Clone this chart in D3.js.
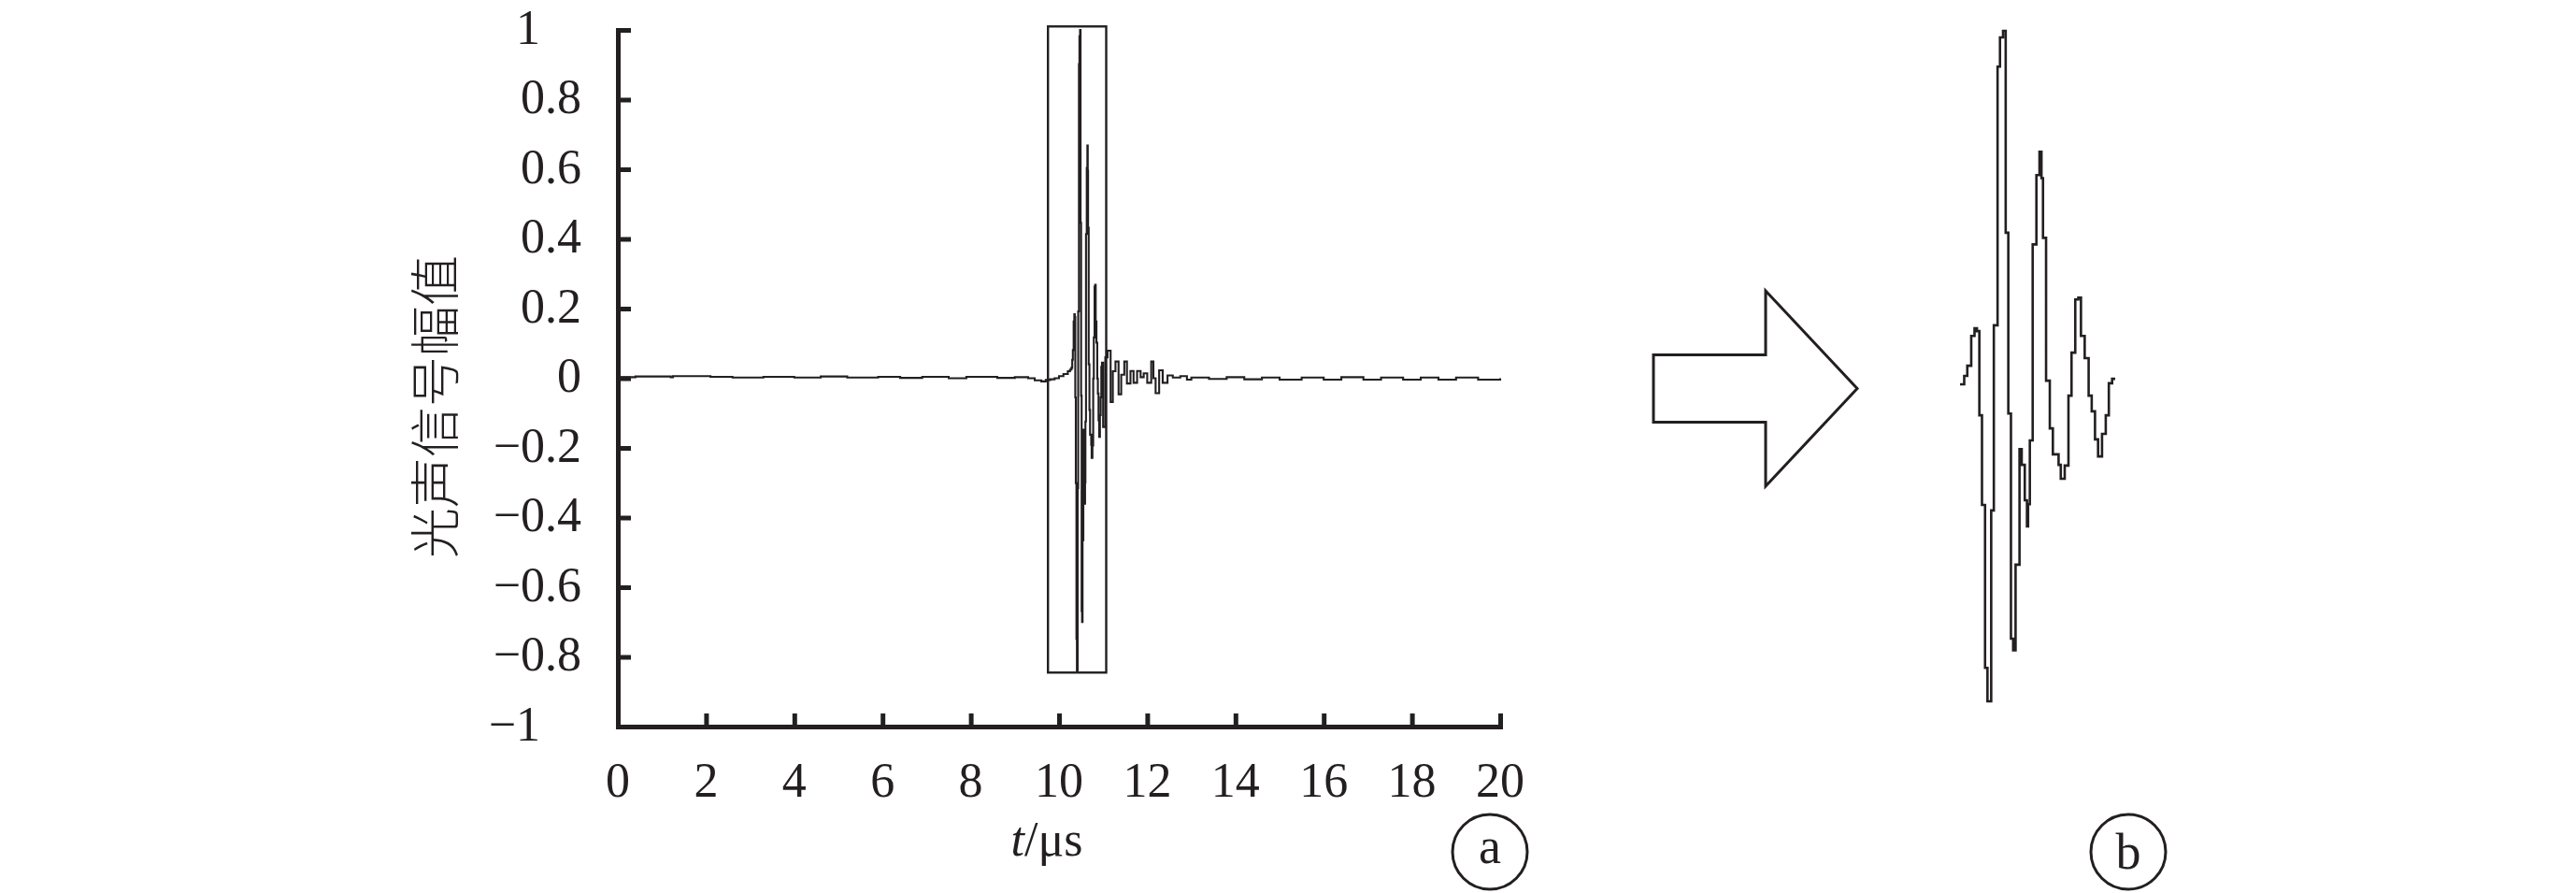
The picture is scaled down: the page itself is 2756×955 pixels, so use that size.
<!DOCTYPE html>
<html>
<head>
<meta charset="utf-8">
<script src="https://cdn.jsdelivr.net/npm/d3@7"></script>
<style>
  html, body { margin: 0; padding: 0; background: #fff; }
  svg { display: block; }
</style>
</head>
<body>
<svg id="chart" width="2756" height="955"></svg>
<script>
// ---------------- DATA ----------------
// x ticks (µs) and y ticks (amplitude)
const xTicks = [0, 2, 4, 6, 8, 10, 12, 14, 16, 18, 20];
const yTicks = [1, 0.8, 0.6, 0.4, 0.2, 0, -0.2, -0.4, -0.6, -0.8, -1];
const yTickLabels = ["1", "0.8", "0.6", "0.4", "0.2", "0", "\u22120.2", "\u22120.4", "\u22120.6", "\u22120.8", "\u22121"];
const xTitle = "t/\u03bcs";
const yTitle = "光声信号幅值";
const panelLabels = ["a", "b"];

// pre-burst baseline (t in µs, value)
const preT = [0, 0.4, 1.2, 1.25, 2.1, 2.6, 3.3, 4.0, 4.6, 5.2, 5.9, 6.4, 6.9, 7.5, 7.9, 8.6, 9.0, 9.3, 9.45, 9.6, 9.7, 9.8, 9.9, 10.0, 10.1, 10.2, 10.25];
const preV = [0.003, 0.005, 0.003, 0.006, 0.004, 0.002, 0.004, 0.002, 0.005, 0.002, 0.004, 0.001, 0.004, 0.0, 0.004, 0.001, 0.003, 0.0, -0.006, -0.009, -0.005, -0.003, 0.0, 0.006, 0.012, 0.020, 0.025];

// burst samples (shown magnified in panel b)
const burstT = [10.281, 10.300, 10.314, 10.332, 10.347, 10.358, 10.369, 10.381, 10.395, 10.406,
                10.423, 10.435, 10.452, 10.463, 10.477, 10.489, 10.501, 10.513, 10.523, 10.534,
                10.552, 10.562, 10.576, 10.586, 10.591, 10.599, 10.612, 10.629, 10.643, 10.652,
                10.659, 10.673, 10.690, 10.704, 10.730, 10.740, 10.758, 10.775, 10.789, 10.806,
                10.820, 10.832, 10.849, 10.867, 10.881, 10.896, 10.910, 10.928, 10.945, 10.959,
                10.974, 10.988];
const burstV = [0.030, 0.053, 0.081, 0.163, 0.184, 0.176, -0.055, -0.301, -0.748, -0.840,
                -0.316, 0.192, 0.902, 0.982, 1.000, 0.446, -0.050, -0.668, -0.700, -0.465,
                -0.148, -0.191, -0.288, -0.360, -0.299, -0.124, 0.414, 0.604, 0.668, 0.596,
                0.432, 0.040, -0.091, -0.162, -0.191, -0.229, -0.193, -0.001, 0.117, 0.263,
                0.268, 0.163, 0.102, -0.001, -0.044, -0.121, -0.168, -0.106, -0.055, 0.033,
                0.045, 0.045];

// ringing tail after the burst
const tailT = [11.00, 11.05, 11.10, 11.17, 11.22, 11.28, 11.35, 11.41, 11.48, 11.54, 11.62, 11.69, 11.77, 11.85, 11.92, 12.00, 12.09, 12.14, 12.19, 12.27, 12.35, 12.46, 12.58, 12.75, 12.9];
const tailV = [-0.14, 0.06, 0.079, -0.068, 0.02, 0.048, -0.046, 0.01, 0.048, -0.015, 0.021, -0.013, 0.021, 0.003, 0.014, -0.013, 0.048, 0.0, -0.043, 0.023, -0.013, 0.008, 0.002, 0.006, -0.004];

// post-burst baseline
const postT = [13.0, 13.4, 13.8, 14.2, 14.6, 15.0, 15.5, 16.0, 16.4, 16.9, 17.3, 17.8, 18.2, 18.6, 19.0, 19.5, 20.0];
const postV = [0.002, -0.002, 0.003, -0.003, 0.002, -0.004, 0.002, -0.004, 0.003, -0.004, 0.002, -0.004, 0.002, -0.004, 0.002, -0.004, 0.0];

// highlight box around the burst (t range, value range)
const boxT = [9.75, 11.07];
const boxV = [-0.845, 1.01];

// ---------------- LAYOUT ----------------
const W = 2756, H = 955;
const svg = d3.select("#chart");
svg.append("rect").attr("width", W).attr("height", H).attr("fill", "#fff");

const serif = "'Liberation Serif', 'Times New Roman', serif";
const ink = "#231f20";

const x = d3.scaleLinear().domain([0, 20]).range([661, 1605]);
const y = d3.scaleLinear().domain([-1, 1]).range([777, 32]);

const zip = (ts, vs) => ts.map((t, i) => [t, vs[i]]);
const mainSeries = [].concat(zip(preT, preV), zip(burstT, burstV), zip(tailT, tailV), zip(postT, postV));
const burstSeries = zip(burstT, burstV);

// axes
const gx = svg.append("g").attr("transform", `translate(0,${y(-1)})`)
  .call(d3.axisBottom(x).tickValues(xTicks).tickSizeInner(-14).tickSizeOuter(0).tickFormat(""));
const gy = svg.append("g").attr("transform", `translate(${x(0)},0)`)
  .call(d3.axisLeft(y).tickValues(yTicks).tickSizeInner(-14).tickSizeOuter(0).tickFormat(""));
[gx, gy].forEach(g => {
  g.selectAll("path.domain").attr("stroke", ink).attr("stroke-width", 5).attr("stroke-linecap", "square");
  g.selectAll(".tick line").attr("stroke", ink).attr("stroke-width", 5);
});

// x tick labels
svg.append("g").selectAll("text").data(xTicks).join("text")
  .attr("x", d => x(d)).attr("y", 852)
  .attr("text-anchor", "middle")
  .attr("font-family", serif).attr("font-size", 52).attr("fill", ink)
  .text(d => d);

// y tick labels (as typeset in the source: ±1 set tighter)
svg.append("g").selectAll("text").data(yTicks).join("text")
  .attr("x", (d) => Math.abs(d) === 1 ? 578 : 622)
  .attr("y", d => y(d))
  .attr("dy", "0.28em")
  .attr("text-anchor", "end")
  .attr("font-family", serif).attr("font-size", 52).attr("fill", ink)
  .text((d, i) => yTickLabels[i]);

// axis titles
const xt = svg.append("text").attr("x", 1120).attr("y", 915).attr("text-anchor", "middle")
  .attr("font-family", serif).attr("font-size", 52).attr("fill", ink);
xt.append("tspan").attr("font-style", "italic").text(xTitle.split("/")[0]);
xt.append("tspan").text("/" + xTitle.split("/")[1]);

svg.append("text")
  .attr("transform", `translate(486,435) rotate(-90)`)
  .attr("text-anchor", "middle")
  .attr("font-family", "'Noto Sans CJK SC', sans-serif").attr("font-weight", 300)
  .attr("font-size", 54).attr("fill", ink)
  .text(yTitle);

// signal
svg.append("path").datum(mainSeries)
  .attr("fill", "none").attr("stroke", ink).attr("stroke-width", 2.1)
  .attr("d", d3.line().x(d => x(d[0])).y(d => y(d[1])).curve(d3.curveStepAfter));

// highlight box
svg.append("rect")
  .attr("x", x(boxT[0])).attr("y", y(boxV[1]))
  .attr("width", x(boxT[1]) - x(boxT[0])).attr("height", y(boxV[0]) - y(boxV[1]))
  .attr("fill", "none").attr("stroke", ink).attr("stroke-width", 2.4);

// arrow
const ac = { x: 1878, y: 415.5 }, aw = 218, headW = 98, shaftH = 72, headH = 209;
const ax0 = ac.x - aw / 2, ax1 = ac.x + aw / 2 - headW, ax2 = ac.x + aw / 2;
svg.append("path")
  .attr("d", d3.line()([
    [ax0, ac.y - shaftH / 2], [ax1, ac.y - shaftH / 2], [ax1, ac.y - headH / 2],
    [ax2, ac.y], [ax1, ac.y + headH / 2], [ax1, ac.y + shaftH / 2], [ax0, ac.y + shaftH / 2]
  ]) + "Z")
  .attr("fill", "#fff").attr("stroke", ink).attr("stroke-width", 3).attr("stroke-linejoin", "miter");

// inset b : magnified burst
const xi = d3.scaleLinear().domain([burstT[0], burstT[burstT.length - 1]]).range([2097, 2263]);
const yi = d3.scaleLinear().domain([-1, 1]).range([812.4, 33]);
svg.append("path").datum(burstSeries)
  .attr("fill", "none").attr("stroke", ink).attr("stroke-width", 2.6)
  .attr("d", d3.line().x(d => xi(d[0])).y(d => yi(d[1])).curve(d3.curveStepAfter));

// panel labels
const labelPos = [[1594, 911], [2277, 911]];
panelLabels.forEach((lab, i) => {
  const [cx, cy] = labelPos[i];
  svg.append("circle").attr("cx", cx).attr("cy", cy).attr("r", 40)
    .attr("fill", "none").attr("stroke", ink).attr("stroke-width", 3);
  svg.append("text").attr("x", cx).attr("y", cy).attr("dy", lab === "a" ? "0.22em" : "0.33em")
    .attr("text-anchor", "middle")
    .attr("font-family", serif).attr("font-size", 54).attr("fill", ink)
    .text(lab);
});
</script>
</body>
</html>
